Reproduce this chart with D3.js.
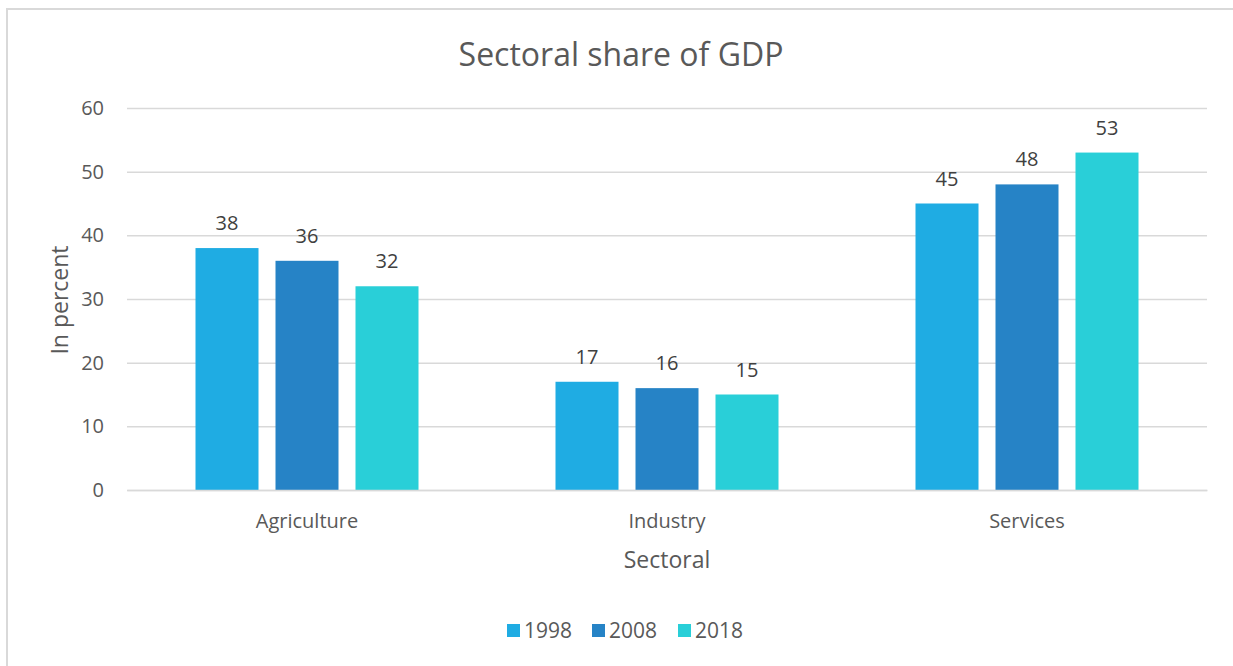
<!DOCTYPE html>
<html>
<head>
<meta charset="utf-8">
<script src="https://cdn.jsdelivr.net/npm/d3@7"></script>
<style>
  html, body { margin: 0; padding: 0; background: #fff; }
  svg { display: block; font-family: "Open Sans", "Noto Sans", sans-serif; }
</style>
</head>
<body>
<svg id="chart" width="1233" height="666"></svg>
<script>
// Sectoral share of GDP, in percent
const sectors = ["Agriculture", "Industry", "Services"];
const years = ["1998", "2008", "2018"];
const share1998 = [38, 17, 45];
const share2008 = [36, 16, 48];
const share2018 = [32, 15, 53];
const yTicks = [0, 10, 20, 30, 40, 50, 60];

const seriesValues = [share1998, share2008, share2018];
const colors = ["#1FACE3", "#2683C6", "#29CFD8"];
const FONT = '"Open Sans", "Noto Sans", sans-serif';

const svg = d3.select("#chart");
const margin = { left: 127, right: 26, top: 108, bottom: 176 };
const W = 1233, H = 666;

// chart frame
svg.append("rect")
  .attr("x", 7).attr("y", 9)
  .attr("width", W + 10).attr("height", H + 10)
  .attr("fill", "#fff")
  .attr("stroke", "#d9d9d9").attr("stroke-width", 2);

const x0 = d3.scaleBand().domain(sectors)
  .range([margin.left, W - margin.right]).padding(0);
const groupInset = 68.5;
const x1 = d3.scaleBand().domain(years)
  .range([groupInset, x0.bandwidth() - groupInset])
  .paddingInner(17 / 80).paddingOuter(0);
const y = d3.scaleLinear().domain([0, 60]).range([H - margin.bottom, margin.top]);

// gridlines and value axis
const yAxis = d3.axisLeft(y).tickValues(yTicks)
  .tickSize(-(W - margin.left - margin.right)).tickPadding(23);
const gy = svg.append("g").attr("transform", `translate(${margin.left},0)`).call(yAxis)
  .attr("font-family", FONT).attr("font-size", 20);
gy.select(".domain").remove();
gy.selectAll(".tick line").attr("stroke", "#d9d9d9").attr("stroke-width", 1.5);
gy.selectAll(".tick text").attr("fill", "#595959");

// bars
const groups = svg.append("g").selectAll("g")
  .data(sectors).join("g")
  .attr("transform", d => `translate(${x0(d)},0)`);

const cells = (s, i) => years.map((yr, k) => ({ yr, v: seriesValues[k][i], k }));

groups.selectAll("rect")
  .data(cells)
  .join("rect")
  .attr("x", d => x1(d.yr))
  .attr("width", x1.bandwidth())
  .attr("y", d => y(d.v))
  .attr("height", d => y(0) - y(d.v))
  .attr("fill", d => colors[d.k]);

// value labels
groups.selectAll("text.val")
  .data(cells)
  .join("text")
  .attr("class", "val")
  .attr("x", d => x1(d.yr) + x1.bandwidth() / 2)
  .attr("y", d => y(d.v) - 18)
  .attr("text-anchor", "middle")
  .attr("fill", "#404040")
  .style("font-size", "20px")
  .text(d => d.v);

// category axis
const xAxis = d3.axisBottom(x0).tickSize(0).tickPadding(24);
const gx = svg.append("g").attr("transform", `translate(0,${y(0)})`).call(xAxis)
  .attr("font-family", FONT).attr("font-size", 20);
gx.select(".domain").attr("stroke", "#d9d9d9").attr("stroke-width", 1.5);
gx.selectAll(".tick text").attr("fill", "#595959");

// title
svg.append("text")
  .attr("x", 621).attr("y", 66)
  .attr("text-anchor", "middle")
  .attr("fill", "#595959")
  .style("font-size", "32px")
  .text("Sectoral share of GDP");

// axis titles
svg.append("text")
  .attr("x", 667).attr("y", 568)
  .attr("text-anchor", "middle")
  .attr("fill", "#595959")
  .style("font-size", "23px")
  .text("Sectoral");

svg.append("text")
  .attr("transform", "translate(68,300) rotate(-90)")
  .attr("text-anchor", "middle")
  .attr("fill", "#595959")
  .style("font-size", "23px")
  .text("In percent");

// legend
const legendX = [507, 592, 678];
const legend = svg.append("g").selectAll("g")
  .data(years).join("g")
  .attr("transform", (d, i) => `translate(${legendX[i]},624)`);
legend.append("rect")
  .attr("width", 13).attr("height", 13)
  .attr("fill", (d, i) => colors[i]);
legend.append("text")
  .attr("x", 17).attr("y", 14)
  .attr("fill", "#595959")
  .style("font-size", "21px")
  .text(d => d);
</script>
</body>
</html>
